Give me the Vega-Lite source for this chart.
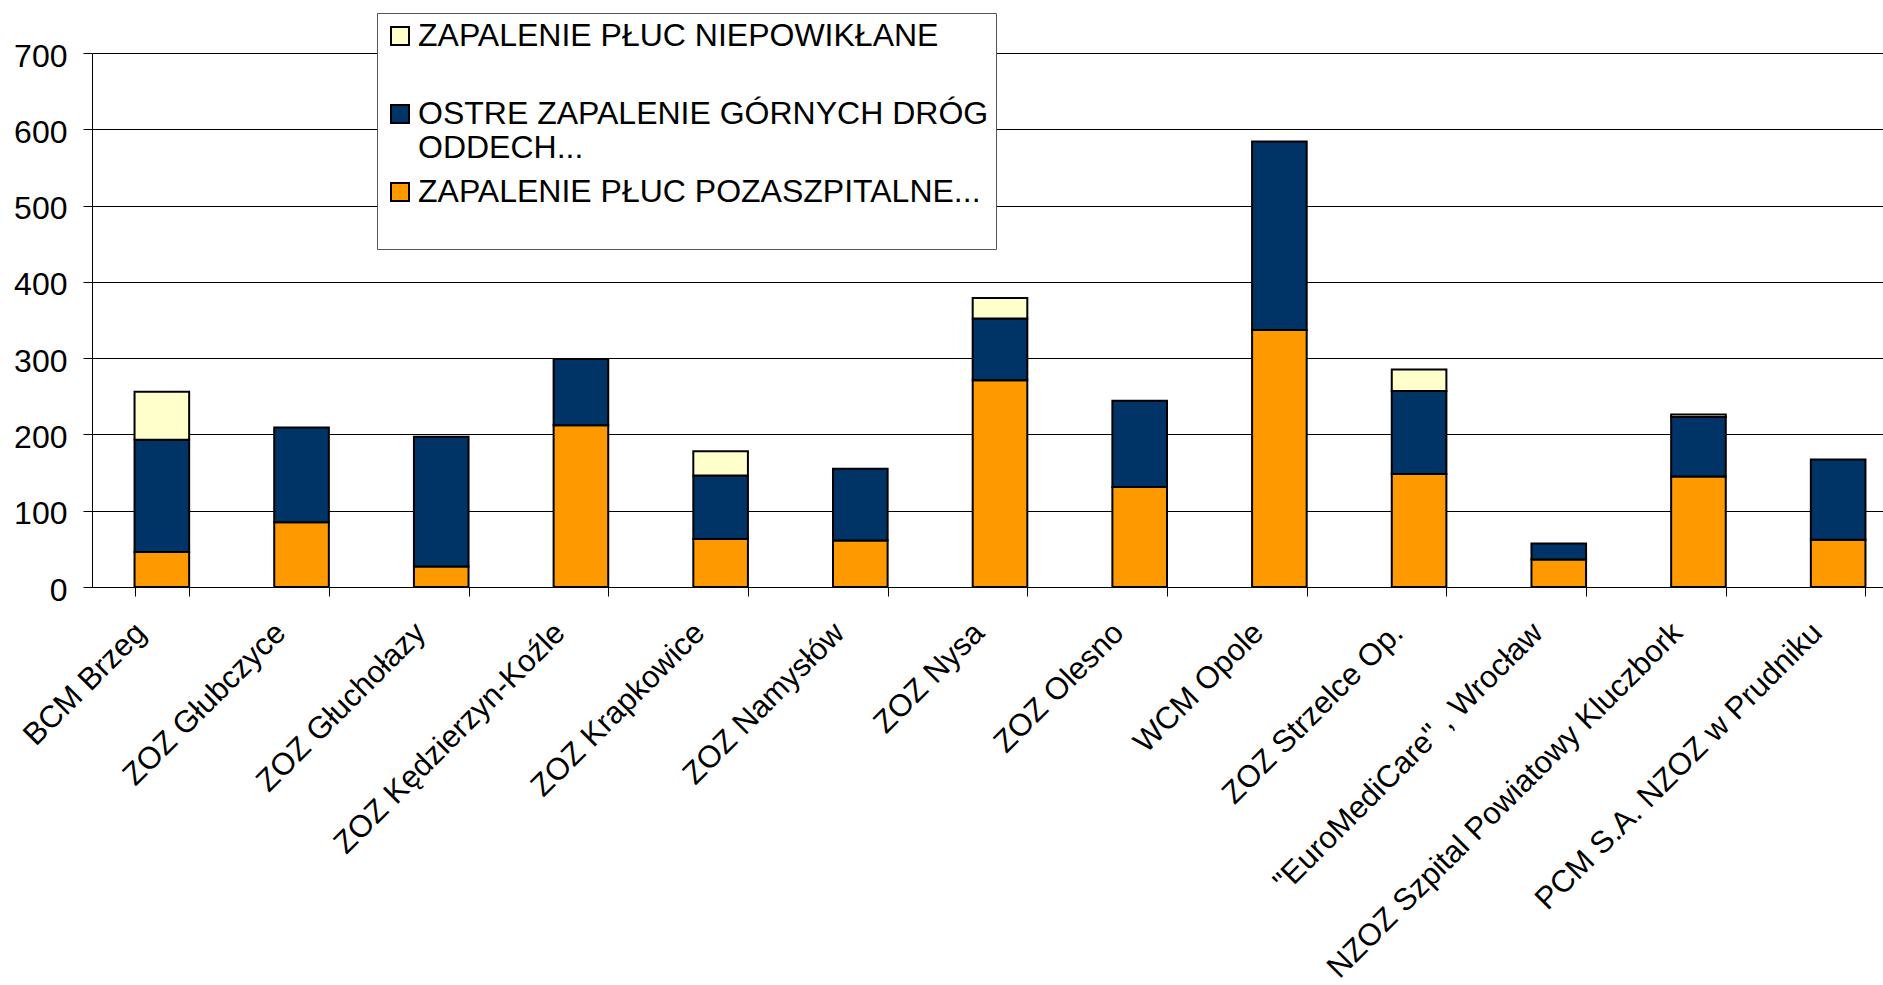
{
  "$schema": "https://vega.github.io/schema/vega-lite/v6.json",
  "autosize": {"type": "none"},
  "padding": {"left": 92, "top": 53, "right": 0, "bottom": 398},
  "width": 1791,
  "height": 534,
  "background": "white",
  "data": {
    "values": [
      {"szpital": "BCM Brzeg", "choroba": "ZAPALENIE PŁUC POZASZPITALNE...", "seria": 1, "liczba": 46},
      {"szpital": "BCM Brzeg", "choroba": "OSTRE ZAPALENIE GÓRNYCH DRÓG ODDECH...", "seria": 2, "liczba": 147},
      {"szpital": "BCM Brzeg", "choroba": "ZAPALENIE PŁUC NIEPOWIKŁANE", "seria": 3, "liczba": 63},
      {"szpital": "ZOZ Głubczyce", "choroba": "ZAPALENIE PŁUC POZASZPITALNE...", "seria": 1, "liczba": 85},
      {"szpital": "ZOZ Głubczyce", "choroba": "OSTRE ZAPALENIE GÓRNYCH DRÓG ODDECH...", "seria": 2, "liczba": 124},
      {"szpital": "ZOZ Głuchołazy", "choroba": "ZAPALENIE PŁUC POZASZPITALNE...", "seria": 1, "liczba": 27},
      {"szpital": "ZOZ Głuchołazy", "choroba": "OSTRE ZAPALENIE GÓRNYCH DRÓG ODDECH...", "seria": 2, "liczba": 170},
      {"szpital": "ZOZ Kędzierzyn-Koźle", "choroba": "ZAPALENIE PŁUC POZASZPITALNE...", "seria": 1, "liczba": 212},
      {"szpital": "ZOZ Kędzierzyn-Koźle", "choroba": "OSTRE ZAPALENIE GÓRNYCH DRÓG ODDECH...", "seria": 2, "liczba": 87},
      {"szpital": "ZOZ Krapkowice", "choroba": "ZAPALENIE PŁUC POZASZPITALNE...", "seria": 1, "liczba": 63},
      {"szpital": "ZOZ Krapkowice", "choroba": "OSTRE ZAPALENIE GÓRNYCH DRÓG ODDECH...", "seria": 2, "liczba": 83},
      {"szpital": "ZOZ Krapkowice", "choroba": "ZAPALENIE PŁUC NIEPOWIKŁANE", "seria": 3, "liczba": 32},
      {"szpital": "ZOZ Namysłów", "choroba": "ZAPALENIE PŁUC POZASZPITALNE...", "seria": 1, "liczba": 61},
      {"szpital": "ZOZ Namysłów", "choroba": "OSTRE ZAPALENIE GÓRNYCH DRÓG ODDECH...", "seria": 2, "liczba": 94},
      {"szpital": "ZOZ Nysa", "choroba": "ZAPALENIE PŁUC POZASZPITALNE...", "seria": 1, "liczba": 271},
      {"szpital": "ZOZ Nysa", "choroba": "OSTRE ZAPALENIE GÓRNYCH DRÓG ODDECH...", "seria": 2, "liczba": 81},
      {"szpital": "ZOZ Nysa", "choroba": "ZAPALENIE PŁUC NIEPOWIKŁANE", "seria": 3, "liczba": 27},
      {"szpital": "ZOZ Olesno", "choroba": "ZAPALENIE PŁUC POZASZPITALNE...", "seria": 1, "liczba": 131},
      {"szpital": "ZOZ Olesno", "choroba": "OSTRE ZAPALENIE GÓRNYCH DRÓG ODDECH...", "seria": 2, "liczba": 113},
      {"szpital": "WCM Opole", "choroba": "ZAPALENIE PŁUC POZASZPITALNE...", "seria": 1, "liczba": 337},
      {"szpital": "WCM Opole", "choroba": "OSTRE ZAPALENIE GÓRNYCH DRÓG ODDECH...", "seria": 2, "liczba": 247},
      {"szpital": "ZOZ Strzelce Op.", "choroba": "ZAPALENIE PŁUC POZASZPITALNE...", "seria": 1, "liczba": 148},
      {"szpital": "ZOZ Strzelce Op.", "choroba": "OSTRE ZAPALENIE GÓRNYCH DRÓG ODDECH...", "seria": 2, "liczba": 109},
      {"szpital": "ZOZ Strzelce Op.", "choroba": "ZAPALENIE PŁUC NIEPOWIKŁANE", "seria": 3, "liczba": 28},
      {"szpital": "\"EuroMediCare\" , Wrocław", "choroba": "ZAPALENIE PŁUC POZASZPITALNE...", "seria": 1, "liczba": 36},
      {"szpital": "\"EuroMediCare\" , Wrocław", "choroba": "OSTRE ZAPALENIE GÓRNYCH DRÓG ODDECH...", "seria": 2, "liczba": 21},
      {"szpital": "NZOZ  Szpital Powiatowy Kluczbork", "choroba": "ZAPALENIE PŁUC POZASZPITALNE...", "seria": 1, "liczba": 145},
      {"szpital": "NZOZ  Szpital Powiatowy Kluczbork", "choroba": "OSTRE ZAPALENIE GÓRNYCH DRÓG ODDECH...", "seria": 2, "liczba": 78},
      {"szpital": "NZOZ  Szpital Powiatowy Kluczbork", "choroba": "ZAPALENIE PŁUC NIEPOWIKŁANE", "seria": 3, "liczba": 3},
      {"szpital": "PCM S.A. NZOZ w Prudniku", "choroba": "ZAPALENIE PŁUC POZASZPITALNE...", "seria": 1, "liczba": 62},
      {"szpital": "PCM S.A. NZOZ w Prudniku", "choroba": "OSTRE ZAPALENIE GÓRNYCH DRÓG ODDECH...", "seria": 2, "liczba": 105}
    ]
  },
  "mark": {"type": "bar", "stroke": "black", "strokeWidth": 2, "opacity": 1},
  "encoding": {
    "x": {
      "field": "szpital",
      "type": "nominal",
      "sort": null,
      "scale": {"range": [0, 1816], "paddingInner": 0.609, "paddingOuter": 0.3045},
      "axis": {
        "title": null,
        "tickBand": "extent",
        "tickSize": 9,
        "tickColor": "black",
        "domainColor": "black",
        "domainWidth": 1,
        "labelAngle": -45,
        "labelAlign": "right",
        "labelBaseline": "middle",
        "labelPadding": 32,
        "labelOffset": -21,
        "labelFont": "Liberation Sans",
        "labelFontSize": 31,
        "labelColor": "black",
        "labelLimit": 0,
        "labelOverlap": false,
        "grid": false
      }
    },
    "y": {
      "field": "liczba",
      "type": "quantitative",
      "stack": "zero",
      "scale": {"domain": [0, 700], "nice": false},
      "axis": {
        "title": null,
        "values": [0, 100, 200, 300, 400, 500, 600, 700],
        "tickSize": 9,
        "tickColor": "black",
        "domainColor": "black",
        "grid": true,
        "gridColor": "black",
        "gridWidth": 1,
        "labelFont": "Liberation Sans",
        "labelFontSize": 32,
        "labelColor": "black",
        "labelPadding": 16,
        "labelOffset": 3
      }
    },
    "order": {"field": "seria", "type": "quantitative", "sort": "ascending"},
    "color": {
      "field": "choroba",
      "type": "nominal",
      "sort": ["ZAPALENIE PŁUC NIEPOWIKŁANE", "OSTRE ZAPALENIE GÓRNYCH DRÓG ODDECH...", "ZAPALENIE PŁUC POZASZPITALNE..."],
      "scale": {
        "domain": ["ZAPALENIE PŁUC NIEPOWIKŁANE", "OSTRE ZAPALENIE GÓRNYCH DRÓG ODDECH...", "ZAPALENIE PŁUC POZASZPITALNE..."],
        "range": ["#FFFFCC", "#003366", "#FF9900"]
      },
      "legend": {
        "title": null,
        "orient": "none",
        "legendX": 285,
        "legendY": -40,
        "padding": 7,
        "rowPadding": 12,
        "strokeColor": "#555555",
        "fillColor": "white",
        "symbolType": "square",
        "symbolSize": 324,
        "symbolStrokeColor": "black",
        "symbolStrokeWidth": 2,
        "symbolOpacity": 1,
        "labelOffset": 2,
        "labelFont": "Liberation Sans",
        "labelFontSize": 32,
        "labelColor": "black",
        "labelLimit": 0,
        "labelExpr": "datum.label == 'OSTRE ZAPALENIE GÓRNYCH DRÓG ODDECH...' ? ['OSTRE ZAPALENIE GÓRNYCH DRÓG', 'ODDECH...'] : [datum.label, '']"
      }
    }
  },
  "config": {
    "view": {"stroke": null},
    "font": "Liberation Sans"
  }
}
